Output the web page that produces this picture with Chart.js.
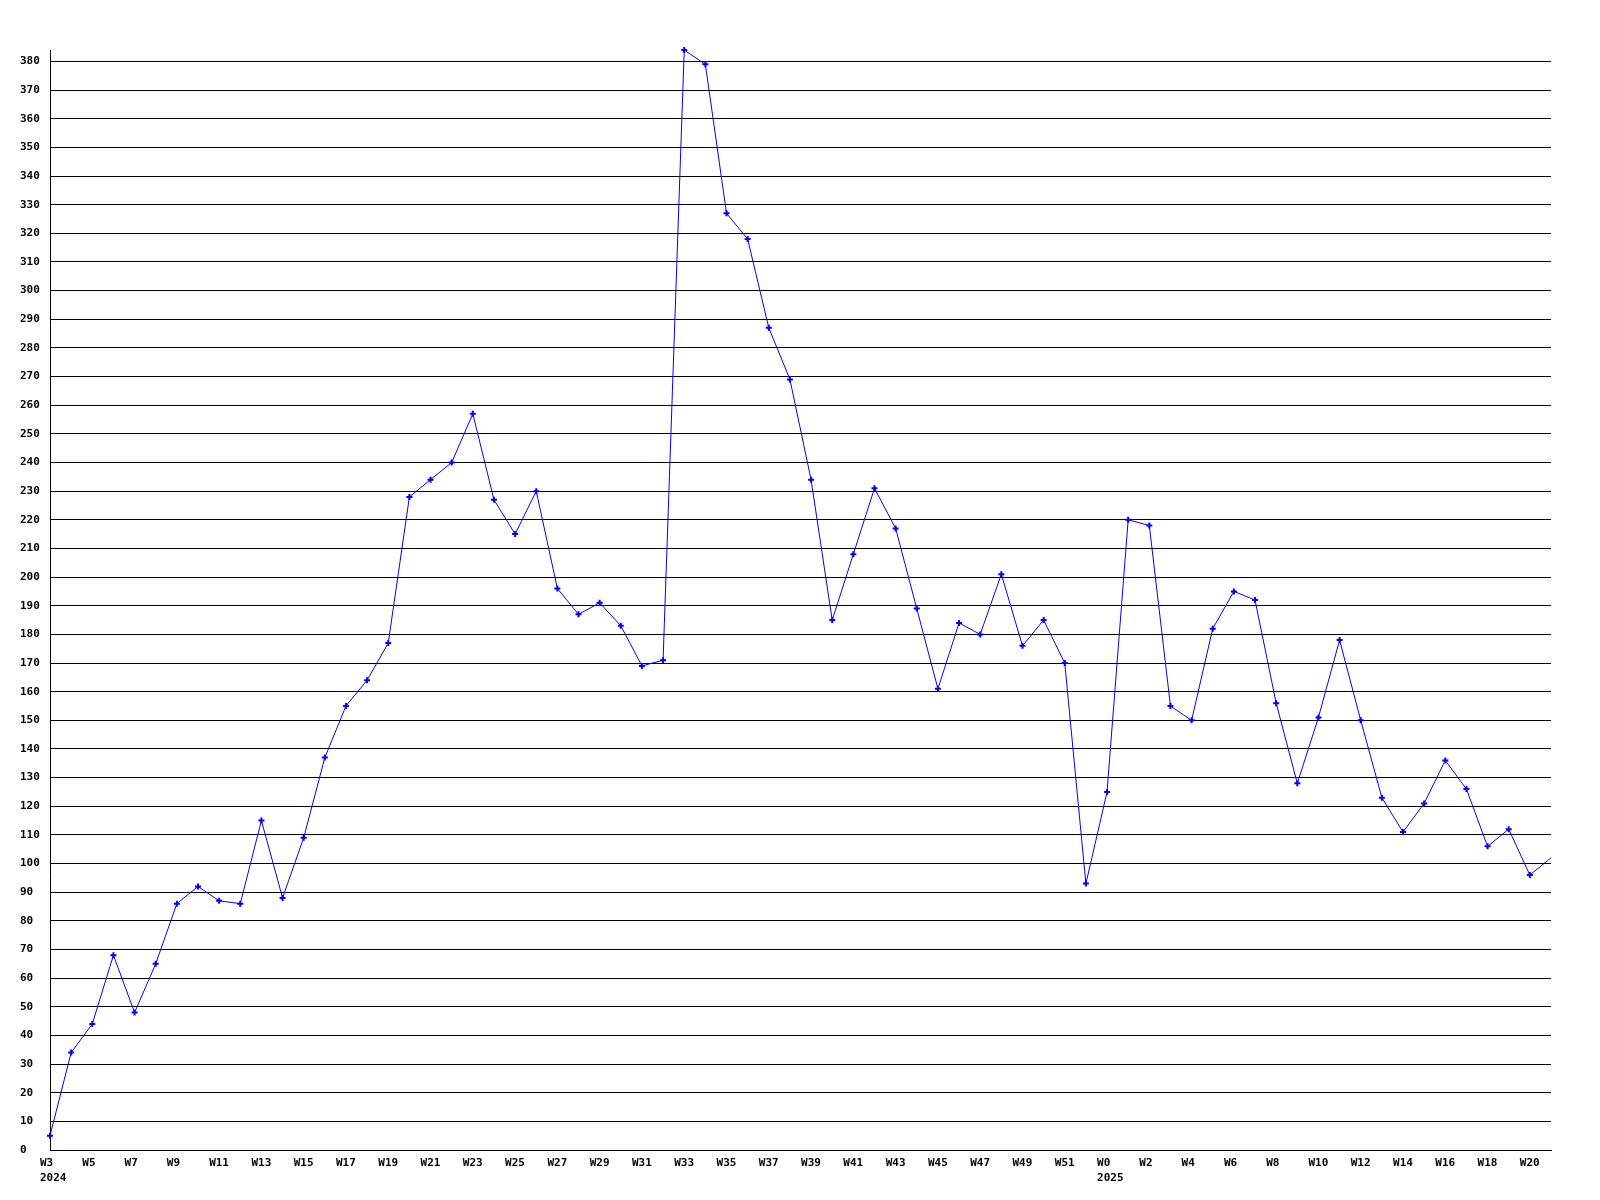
<!DOCTYPE html>
<html>
<head>
<meta charset="utf-8">
<script src="https://cdn.jsdelivr.net/npm/chart.js@4"></script>
<style>
  html, body { margin: 0; padding: 0; background: #fff; }
  #wrap { width: 1600px; height: 1200px; }
</style>
</head>
<body>
<div id="wrap"><canvas id="weekChart" width="1600" height="1200"></canvas></div>
<script>
// week labels (2024 W3..W52, 2025 W0..W21)
const weeks2024 = [];
for (let w = 3; w <= 52; w++) weeks2024.push("W" + w);
const weeks2025 = [];
for (let w = 0; w <= 21; w++) weeks2025.push("W" + w);
const yearStarts = { 0: "2024", 50: "2025" };

const counts2024 = [
  5, 34, 44, 68, 48, 65, 86, 92, 87, 86,
  115, 88, 109, 137, 155, 164, 177, 228, 234, 240,
  257, 227, 215, 230, 196, 187, 191, 183, 169, 171,
  384, 379, 327, 318, 287, 269, 234, 185, 208, 231,
  217, 189, 161, 184, 180, 201, 176, 185, 170, 93
];
const counts2025 = [
  125, 220, 218, 155, 150, 182, 195, 192, 156, 128,
  151, 178, 150, 123, 111, 121, 136, 126, 106, 112,
  96, 102
];

const yMax = 384;

document.addEventListener("DOMContentLoaded", function () {
  const ctx = document.getElementById("weekChart");
  const labels = weeks2024.concat(weeks2025);
  const values = counts2024.concat(counts2025);
  const radii = values.map((v, i) => i === values.length - 1 ? 0 : 3);

  new Chart(ctx, {
    type: "line",
    data: {
      labels: labels,
      datasets: [{
        data: values,
        borderColor: "#0000ff",
        backgroundColor: "#0000ff",
        borderWidth: 1,
        tension: 0,
        fill: false,
        clip: { left: 10, top: 10, right: 0, bottom: 10 },
        pointStyle: "cross",
        pointRadius: radii,
        pointBorderWidth: 2,
        pointBorderColor: "#0000ff",
        pointHoverRadius: 0
      }]
    },
    options: {
      responsive: false,
      devicePixelRatio: 1,
      animation: false,
      layout: { padding: { left: 20, top: 50, right: 49, bottom: 0 } },
      plugins: {
        legend: { display: false },
        tooltip: { enabled: false }
      },
      scales: {
        x: {
          offset: false,
          grid: { display: false, drawTicks: false },
          border: { display: true, color: "#000", width: 1 },
          afterFit: function (s) { s.height = 50; },
          ticks: {
            autoSkip: false,
            maxRotation: 0,
            minRotation: 0,
            align: "start",
            labelOffset: -10,
            padding: 6,
            color: "#000",
            font: { family: "'DejaVu Sans Mono', monospace", size: 11, weight: "bold", lineHeight: "15px" },
            callback: function (val, idx) {
              if (idx % 2 !== 0) return "";
              const lab = labels[idx];
              return yearStarts[idx] ? [lab, yearStarts[idx]] : lab;
            }
          }
        },
        y: {
          min: 0,
          max: yMax,
          grid: { color: "#000", lineWidth: 1, drawTicks: false },
          border: { display: true, color: "#000", width: 1 },
          afterFit: function (s) { s.width = 30; },
          ticks: {
            stepSize: 10,
            includeBounds: false,
            crossAlign: "far",
            padding: 0,
            color: "#000",
            font: { family: "'DejaVu Sans Mono', monospace", size: 11, weight: "bold" }
          }
        }
      }
    }
  });
});
</script>
</body>
</html>
